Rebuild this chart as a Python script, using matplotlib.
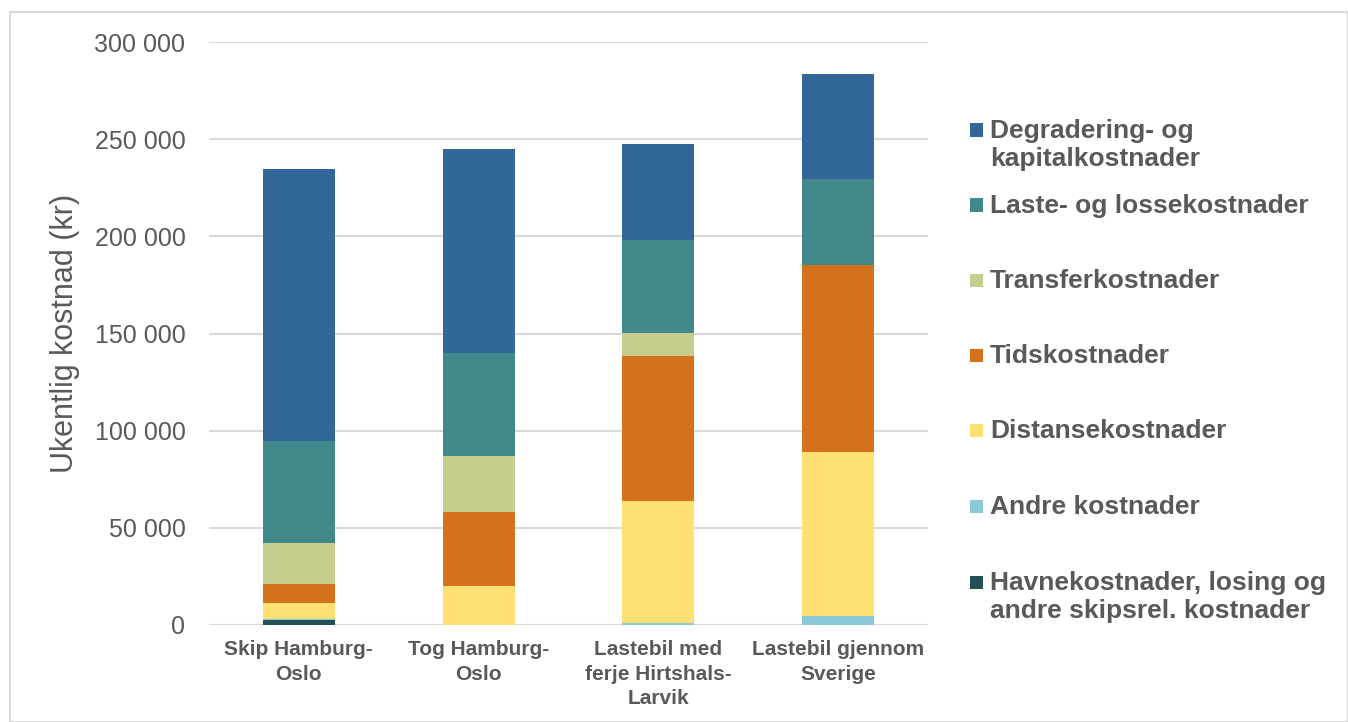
import matplotlib
matplotlib.use("Agg")
import matplotlib.pyplot as plt
from matplotlib.patches import Rectangle
import numpy as np

categories = ["Skip Hamburg-\nOslo", "Tog Hamburg-\nOslo",
              "Lastebil med\nferje Hirtshals-\nLarvik", "Lastebil gjennom\nSverige"]

series_names = [
    "Havnekostnader, losing og\nandre skipsrel. kostnader",
    "Andre kostnader",
    "Distansekostnader",
    "Tidskostnader",
    "Transferkostnader",
    "Laste- og lossekostnader",
    "Degradering- og\nkapitalkostnader",
]
havn = [2500, 0, 0, 0]
andre = [500, 0, 1000, 4800]
distanse = [8500, 20200, 63000, 84200]
tids = [9500, 37800, 74600, 96000]
transfer = [21000, 29000, 11400, 0]
laste = [52800, 53000, 48300, 44400]
degradering = [139700, 105000, 49200, 54100]
series_values = [havn, andre, distanse, tids, transfer, laste, degradering]
colors = ["#234F57", "#8BC8DA", "#FFE073", "#D4721C", "#C7CD8F", "#408889", "#336699"]

yticks = [0, 50000, 100000, 150000, 200000, 250000, 300000]
ytick_labels = ["0", "50 000", "100 000", "150 000", "200 000", "250 000", "300 000"]

text_color = "#595959"
plt.rcParams['font.family'] = ['Liberation Sans', 'DejaVu Sans']

fig = plt.figure(figsize=(13.48, 7.22), dpi=100)
ax = fig.add_axes([209/1348, 1-625/722, (928-209)/1348, (625-42)/722])

x = np.arange(len(categories))
bottom = np.zeros(len(categories))
for name, vals, c in zip(series_names, series_values, colors):
    v = np.array(vals, dtype=float)
    ax.bar(x, v, width=0.4, bottom=bottom, color=c, edgecolor='none', zorder=3, label=name)
    bottom += v

ax.set_xlim(-0.5, len(categories) - 0.5)
ax.set_ylim(0, 300000)
ax.set_yticks(yticks)
ax.set_yticklabels(ytick_labels, fontsize=18, color=text_color)
ax.set_xticks(x)
ax.set_xticklabels(categories, fontsize=15, fontweight='bold', color=text_color,
                   linespacing=1.35, va='top')
ax.tick_params(axis='both', length=0)
ax.tick_params(axis='x', pad=11)
ax.tick_params(axis='y', pad=17)
ax.grid(axis='y', color='#D9D9D9', linewidth=1.5, zorder=0)
for s in ax.spines.values():
    s.set_visible(False)
ax.set_ylabel("Ukentlig kostnad (kr)", fontsize=22, color=text_color, labelpad=10)

# Legend (reverse order, manual layout to match spacing)
leg_y = [130, 205, 280, 355, 430, 506, 582]
for i, (name, c) in enumerate(zip(series_names[::-1], colors[::-1])):
    yc = 1 - leg_y[i] / 722
    fig.patches.append(Rectangle((970/1348, yc - 6.5/722), 13/1348, 13/722,
                                 transform=fig.transFigure, facecolor=c, edgecolor='none'))
    fig.text(990/1348, yc + 11/722, name, fontsize=19, fontweight='bold', color=text_color,
             va='top', ha='left', linespacing=1.22)

# Outer frame
fig.patches.append(Rectangle((10/1348, 0), 1 - 10/1348, 1 - 12/722, transform=fig.transFigure,
                             facecolor='none', edgecolor='#D9D9D9', linewidth=1.5))

fig.savefig("out.png", dpi=100)
